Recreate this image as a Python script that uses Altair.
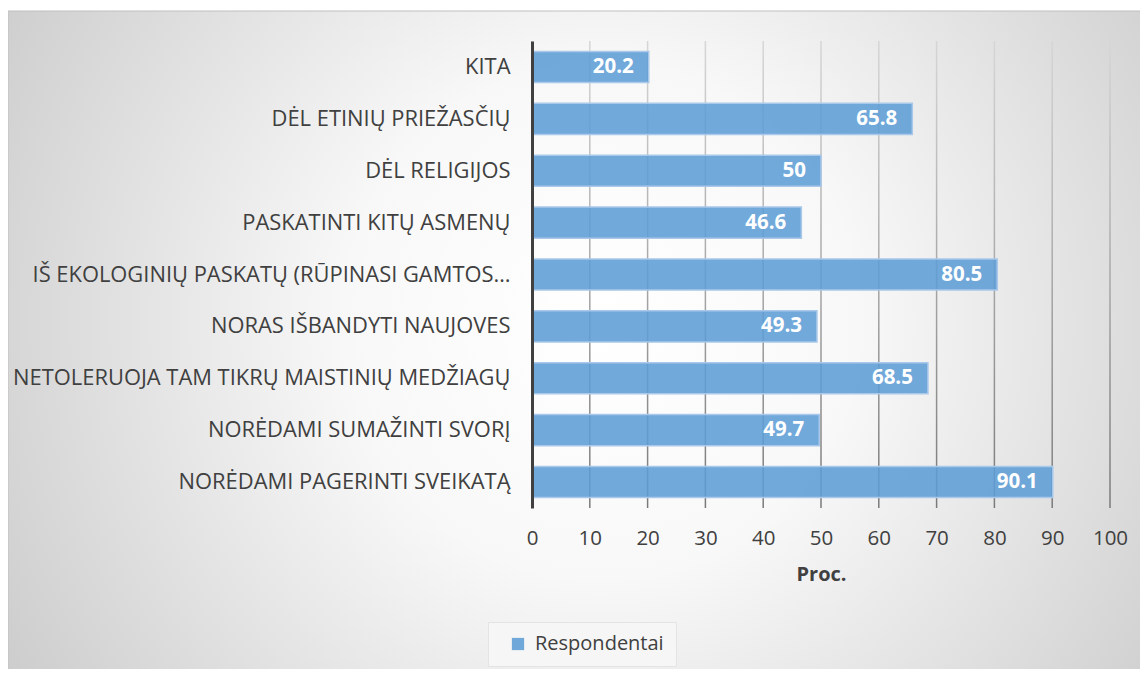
import altair as alt
import pandas as pd

categories = [
    "KITA",
    "DĖL ETINIŲ PRIEŽASČIŲ",
    "DĖL RELIGIJOS",
    "PASKATINTI KITŲ ASMENŲ",
    "IŠ EKOLOGINIŲ PASKATŲ (RŪPINASI GAMTOS…",
    "NORAS IŠBANDYTI NAUJOVES",
    "NETOLERUOJA TAM TIKRŲ MAISTINIŲ MEDŽIAGŲ",
    "NORĖDAMI SUMAŽINTI SVORĮ",
    "NORĖDAMI PAGERINTI SVEIKATĄ",
]
values = [20.2, 65.8, 50, 46.6, 80.5, 49.3, 68.5, 49.7, 90.1]
series_name = "Respondentai"
x_ticks = [0, 10, 20, 30, 40, 50, 60, 70, 80, 90, 100]

df = pd.DataFrame({"cat": categories, "val": values, "series": [series_name] * len(values)})
grid_df = pd.DataFrame({"t": x_ticks})

W, H = 578, 467
FONT = "Open Sans"

xscale = alt.Scale(domain=[0, 100], nice=False)

bg = alt.Chart(alt.Data(values=[{}])).mark_rect(
    fill=alt.Gradient(
        gradient="radial",
        x1=0.52, y1=0.48, r1=0,
        x2=0.52, y2=0.48, r2=0.75,
        stops=[
            alt.GradientStop(offset=0, color="#ffffff"),
            alt.GradientStop(offset=0.3, color="#f8f8f8"),
            alt.GradientStop(offset=1, color="#bcbcbc"),
        ],
    ),
    stroke="#bfbfbf",
    strokeWidth=1,
).encode(
    x=alt.value(-524), x2=alt.value(W + 40),
    y=alt.value(-30), y2=alt.value(H + 170),
)

grid = alt.Chart(grid_df).mark_rect(
    width=1.5,
    fill=alt.Gradient(
        gradient="linear", x1=0, y1=0, x2=0, y2=1,
        stops=[
            alt.GradientStop(offset=0, color="#d6d6d6"),
            alt.GradientStop(offset=1, color="#7a7a7a"),
        ],
    ),
).encode(
    x=alt.X("t:Q", scale=xscale),
    y=alt.value(0), y2=alt.value(H),
)

base = alt.Chart(df)

bars = base.mark_bar(
    fill="#5e9dd6", fillOpacity=0.88, stroke="#a9c8ea", strokeWidth=1.5,
).encode(
    y=alt.Y("cat:N", sort=categories, scale=alt.Scale(paddingInner=0.4, paddingOuter=0.2),
            axis=alt.Axis(title=None, labelFontSize=21.9, labelFont=FONT, labelColor="#404040",
                          labelLimit=560, labelPadding=22, ticks=False, domain=True,
                          domainColor="#404040", domainWidth=3, zindex=1)),
    x=alt.X("val:Q", scale=xscale,
            axis=alt.Axis(values=x_ticks, title="Proc.", titleFont=FONT, titleFontSize=20,
                          titleFontWeight="bold", titleColor="#404040", titlePadding=16,
                          labelFont=FONT, labelFontSize=20.5, labelColor="#404040",
                          labelPadding=20, labelFlush=False, labelOverlap=False,
                          grid=False, ticks=False, domain=False, zindex=1)),
    color=alt.Color("series:N", scale=alt.Scale(domain=[series_name], range=["#5e9dd6"]),
                    legend=alt.Legend(title=None, orient="none", legendX=-44, legendY=581,
                                      direction="horizontal", symbolType="square", symbolSize=150,
                                      symbolOpacity=0.88, symbolStrokeWidth=0, symbolOffset=8,
                                      labelFont=FONT, labelFontSize=20, labelColor="#404040",
                                      labelOffset=7, padding=12, fillColor="#f6f6f6",
                                      strokeColor="#e4e4e4")),
)

labels = base.mark_text(
    align="right", baseline="middle", dx=-15, color="white", fontWeight="bold",
    fontSize=20.5, font=FONT,
).encode(
    y=alt.Y("cat:N", sort=categories),
    x=alt.X("val:Q", scale=xscale),
    text=alt.Text("val:Q"),
)

chart = alt.layer(bg, grid, bars, labels).properties(
    width=W, height=H,
    autosize=alt.AutoSizeParams(type="none"),
    padding={"left": 524, "top": 33, "right": 30, "bottom": 161},
).configure_view(strokeWidth=0).configure(background="white")

chart.save("out.html", embed_options={"renderer": "svg", "actions": False})
